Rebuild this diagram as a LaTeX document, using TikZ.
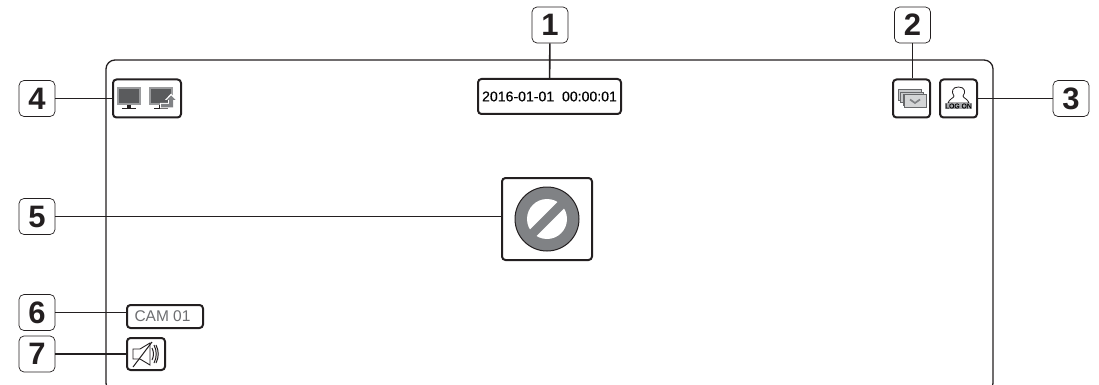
\documentclass[tikz,border=0pt]{standalone}
\usepackage{fontspec}
\setmainfont{Liberation Sans}
\newfontfamily\heavyfont[FakeBold=0.35]{Liberation Sans}
\definecolor{iconline}{HTML}{231F20}
\definecolor{icongray}{HTML}{808285}
\definecolor{iconlight}{HTML}{C9CACC}
\tikzset{
  numbox/.style={draw=iconline,line width=0.7pt,rounded corners=5pt,fill=white,minimum width=36pt,minimum height=36pt,inner sep=0pt,font=\fontsize{31}{32}\selectfont\bfseries,text=iconline},
  itembox/.style={draw=iconline,line width=2pt,rounded corners=3.5pt,fill=white,inner sep=0pt},
  leader/.style={draw=iconline,line width=1.6pt},
}
\begin{document}
\begin{tikzpicture}[x=1pt,y=-1pt]
    \useasboundingbox (0,0) rectangle (1099,385);
    \begin{scope}
    \clip (0,0) rectangle (1099,385);
    \draw[iconline,line width=1.3pt,rounded corners=9pt] (106,60) rectangle (993,392);
    \end{scope}
    % highlighted items
    \node[itembox,minimum width=143pt,minimum height=35pt] (datebox) at (549.5,96.5) {\heavyfont\fontsize{14.1}{15}\selectfont 2016-01-01\ \ 00:00:01};
    \node[itembox,minimum width=68pt,minimum height=38pt] (viewbox) at (147,98.5) {};
    \node[itembox,minimum width=37pt,minimum height=38pt] (alarmbox) at (911.5,98.5) {};
    \node[itembox,minimum width=37pt,minimum height=38pt] (logonbox) at (958.5,98.5) {};
    \node[itembox,minimum width=90pt,minimum height=82pt] (stopbox) at (547,219) {};
    \node[itembox,minimum width=76pt,minimum height=23pt,text=icongray!85!black] (cambox) at (165,316.5) {\hspace*{-5pt}\fontsize{15.5}{16}\selectfont CAM 01};
    \node[itembox,minimum width=38pt,minimum height=32pt] (mutebox) at (146,354) {};
    % numbers
    \node[numbox] (num1) at (550,25) {1};
    \node[numbox] (num2) at (912.5,25) {2};
    \node[numbox] (num3) at (1071,98.5) {3};
    \node[numbox] (num4) at (37,98.5) {4};
    \node[numbox] (num5) at (37,216.5) {5};
    \node[numbox] (num6) at (37,312.5) {6};
    \node[numbox] (num7) at (37,354) {7};
    \draw[leader] (num1) -- (datebox);
    \draw[leader] (num2) -- (alarmbox.north -| num2);
    \draw[leader] (num3) -- (logonbox);
    \draw[leader] (num4) -- (viewbox);
    \draw[leader] (num5.east) -- (stopbox.west |- num5.east);
    \draw[leader] (num6.east) -- (cambox.west |- num6.east);
    \draw[leader] (num7) -- (mutebox);
    % monitors
    \foreach \x in {117,149} {
      \fill[icongray!80] (\x,87) rectangle (\x+24,105);
      \fill[icongray!70!black] (\x+2,89) rectangle (\x+22,103);
      \fill[iconline] (\x+10,105) rectangle (\x+14,108);
      \fill[iconline] (\x+5,108) rectangle (\x+19,109.5);
    }
    \fill[white] (165,100) -- (171,93.5) -- (177,100) -- (174,100) -- (174,108.5) -- (160,108.5) -- (160,103) -- (168,103) -- (168,100) -- cycle;
    \fill[icongray] (166.5,100) -- (171,95.5) -- (175.5,100) -- (173,100) -- (173,107.5) -- (161,107.5) -- (161,104) -- (169,104) -- (169,100) -- cycle;
    % alarm list
    \foreach \d in {0,2.5,5} \draw[icongray!80!black,fill=iconlight,line width=0.8pt] (898+\d,89.5+\d) rectangle (921+\d,100+\d);
    \draw[icongray!80!black,fill=iconlight!80,line width=1pt] (904,95) rectangle (926,108);
    \draw[icongray,line width=1.7pt] (910,99.5) -- (915,103) -- (920,99.5);
    % logon
    \draw[iconline,line width=0.8pt] (954,96) .. controls (951,92) and (952,87) .. (958.5,87) .. controls (965,87) and (966,92) .. (963,96) .. controls (963,98) and (968,99) .. (969,103) -- (948,103) .. controls (949,99) and (954,98) .. (954,96) -- cycle;
    \node[fill=icongray!70,inner sep=0.4pt,font=\heavyfont\fontsize{6.8}{7}\selectfont,text=black] (logontext) at (958.5,106) {LOG ON};
    % stop sign
    \fill[icongray,draw=iconline,line width=1pt] (547,219) circle (32);
    \fill[white] (547,219) circle (20);
    \draw[icongray,line width=9pt] (531,235) -- (563,203);
    % mute
    \draw[iconline,line width=0.9pt] (133,349) -- (140,349) -- (150,343) -- (150,365) -- (140,359) -- (133,359) -- cycle;
    \draw[iconline,line width=1pt] (133,367) -- (152,342);
    \draw[iconline,line width=1pt] (152,348) .. controls (154,352) and (154,356) .. (152,360);
    \draw[iconline,line width=1pt] (154,345) .. controls (157,351) and (157,357) .. (154,363);
    \draw[iconline,line width=1pt] (156,345) .. controls (159,351) and (159,357) .. (156,363);
\end{tikzpicture}
\end{document}
